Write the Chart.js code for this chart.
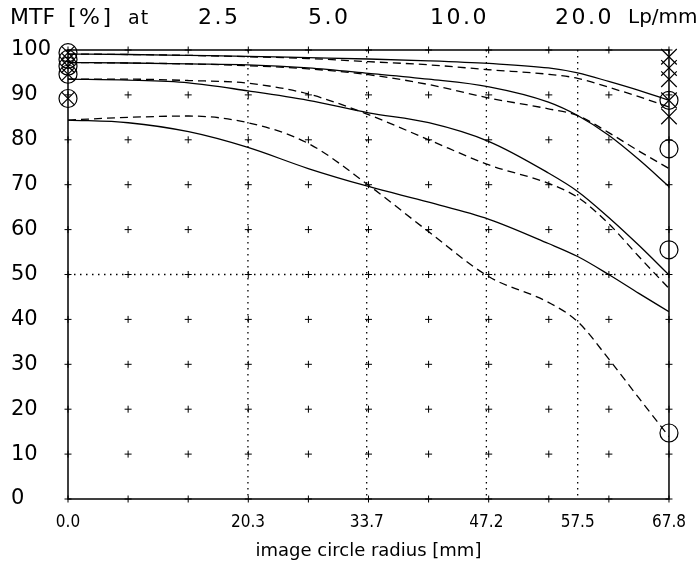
<!DOCTYPE html>
<html>
<head>
<meta charset="utf-8">
<script src="https://cdn.jsdelivr.net/npm/chart.js@4/dist/chart.umd.min.js"></script>
<style>
  html, body { margin: 0; padding: 0; background: #fff; }
  #wrap { width: 699px; height: 574px; }
</style>
</head>
<body>
<div id="wrap"><canvas id="mtfChart" width="699" height="574"></canvas></div>
<script>
// Radio del círculo de imagen (mm) donde se leen las curvas
const radius = [0, 6.8, 13.6, 20.3, 27.1, 33.9, 40.7, 47.5, 54.2, 57.5, 61.0, 64.4, 67.8];

// MTF (%) - continua = sagital, discontinua = tangencial
const sag25 = [99.1, 99.0, 98.8, 98.6, 98.3, 98.0, 97.6, 97.0, 96.0, 94.9, 93.0, 91.0, 88.8];
const tan25 = [99.1, 99.0, 98.8, 98.5, 98.1, 97.4, 96.7, 95.6, 94.6, 93.7, 91.7, 89.6, 87.3];
const sag5  = [97.2, 97.1, 96.9, 96.7, 96.0, 94.8, 93.5, 91.8, 88.4, 85.4, 81.0, 75.6, 69.6];
const tan5  = [97.2, 97.1, 96.9, 96.5, 95.8, 94.5, 92.3, 89.3, 86.9, 85.4, 81.6, 77.5, 73.6];
const sag10 = [93.5, 93.3, 92.7, 90.9, 88.8, 86.0, 83.8, 79.6, 72.6, 68.5, 62.7, 56.5, 49.9];
const tan10 = [93.5, 93.5, 93.2, 92.6, 90.2, 85.6, 80.0, 74.4, 70.3, 67.2, 61.3, 54.0, 46.9];
const sag20 = [84.4, 83.8, 81.8, 78.3, 73.6, 69.6, 66.1, 62.3, 56.9, 54.0, 50.0, 45.8, 41.7];
const tan20 = [84.4, 85.0, 85.3, 83.8, 79.2, 69.9, 59.5, 49.5, 43.8, 39.5, 31.2, 22.5, 13.9];

// Marcas de los ejes
const xTicks = [0, 20.3, 33.7, 47.2, 57.5, 67.8];
const yTicks = [0, 10, 20, 30, 40, 50, 60, 70, 80, 90, 100];
const crossX = [0, 6.78, 13.56, 20.34, 27.12, 33.9, 40.68, 47.46, 54.24, 61.02, 67.8];
const freqs = ['2.5', '5.0', '10.0', '20.0'];

// Símbolos en los bordes
const leftMarks = [99.4, 97.9, 96.4, 94.6, 89.2];
const rightCross = [98.5, 96.0, 93.5, 88.8, 85.2];
const rightCircle = [88.8, 78.0, 55.5, 14.7];

const FONT = '"DejaVu Sans ExtraLight", "DejaVu Sans", sans-serif';

function serie(values, dashed) {
    return {
        data: radius.map((r, i) => ({ x: r, y: values[i] })),
        borderColor: '#000',
        borderWidth: 1.3,
        borderDash: dashed ? [8, 5] : [],
        pointRadius: 0,
        cubicInterpolationMode: 'monotone',
        fill: false
    };
}

function marcas(x, values, style, r) {
    return {
        type: 'scatter',
        data: values.map(v => ({ x: x, y: v })),
        pointStyle: style,
        pointRadius: r,
        borderColor: '#000',
        backgroundColor: 'transparent',
        pointBorderWidth: 1.2,
        showLine: false,
        clip: false
    };
}

// Dibuja el marco, las líneas punteadas, las cruces y el encabezado
const mtfFrame = {
    id: 'mtfFrame',
    beforeDatasetsDraw(chart) {
        const { ctx, chartArea: a, scales: { x, y } } = chart;
        ctx.save();
        ctx.strokeStyle = '#000';
        const line = (x1, y1, x2, y2) => {
            ctx.beginPath(); ctx.moveTo(x1, y1); ctx.lineTo(x2, y2); ctx.stroke();
        };
        ctx.lineWidth = 1.3;
        ctx.setLineDash([1.5, 4.5]);
        xTicks.slice(1, -1).forEach(v => {
            const px = x.getPixelForValue(v);
            line(px, a.top, px, a.bottom);
        });
        const p50 = y.getPixelForValue(50);
        line(a.left, p50, a.right, p50);
        ctx.setLineDash([]);

        ctx.lineWidth = 1;
        crossX.forEach(cx => {
            yTicks.forEach(cy => {
                const px = x.getPixelForValue(cx);
                const py = y.getPixelForValue(cy);
                line(px - 3.5, py, px + 3.5, py);
                line(px, py - 3.5, px, py + 3.5);
            });
        });

        ctx.lineWidth = 1.5;
        ctx.strokeRect(a.left, a.top, a.right - a.left, a.bottom - a.top);
        ctx.restore();
    },
    afterDraw(chart) {
        const ctx = chart.ctx;
        ctx.save();
        ctx.fillStyle = '#000';
        ctx.textAlign = 'left';
        ctx.textBaseline = 'middle';
        ctx.font = '22px ' + FONT;
        ctx.fillText('MTF', 10, 18);
        ctx.letterSpacing = '2.5px';
        ctx.fillText('[%]', 68, 18);
        ctx.letterSpacing = '1px';
        ctx.font = '19px ' + FONT;
        ctx.fillText('at', 128, 19);
        ctx.letterSpacing = '2.5px';
        ctx.font = '22px ' + FONT;
        const fx = [198, 308, 430, 555];
        freqs.forEach((f, i) => ctx.fillText(f, fx[i], 18));
        ctx.letterSpacing = '0px';
        ctx.font = '20px ' + FONT;
        ctx.fillText('Lp/mm', 628, 18);
        ctx.restore();
    }
};

const chart = new Chart(document.getElementById('mtfChart'), {
    type: 'line',
    data: {
        datasets: [
            serie(sag25, false), serie(tan25, true),
            serie(sag5, false), serie(tan5, true),
            serie(sag10, false), serie(tan10, true),
            serie(sag20, false), serie(tan20, true),
            marcas(0, leftMarks, 'circle', 9),
            marcas(0, leftMarks, 'crossRot', 9),
            marcas(67.8, rightCross, 'crossRot', 11),
            marcas(67.8, rightCircle, 'circle', 9)
        ]
    },
    options: {
        responsive: false,
        animation: false,
        layout: { padding: { top: 50, right: 26, left: 11, bottom: 0 } },
        plugins: { legend: { display: false }, tooltip: { enabled: false } },
        scales: {
            x: {
                type: 'linear',
                min: 0,
                max: 67.8,
                afterBuildTicks: s => { s.ticks = xTicks.map(v => ({ value: v })); },
                afterFit: s => { s.height = 75; },
                grid: { display: false, drawTicks: false },
                border: { display: false },
                ticks: {
                    autoSkip: false,
                    maxRotation: 0,
                    padding: 13,
                    color: '#000',
                    font: { family: '"DejaVu Sans Condensed", "Liberation Sans Narrow", "Liberation Sans", sans-serif', size: 17 },
                    callback: v => Number(v).toFixed(1)
                },
                title: {
                    display: true,
                    text: 'image circle radius [mm]',
                    color: '#000',
                    font: { family: FONT, size: 18 },
                    padding: { top: 0, bottom: 12 }
                }
            },
            y: {
                min: 0,
                max: 100,
                afterBuildTicks: s => { s.ticks = yTicks.map(v => ({ value: v })); },
                afterFit: s => { s.width = 57; },
                grid: { display: false, drawTicks: false },
                border: { display: false },
                ticks: {
                    crossAlign: 'far',
                    color: '#000',
                    font: { family: FONT, size: 21 }
                }
            }
        }
    },
    plugins: [mtfFrame]
});
</script>
</body>
</html>
